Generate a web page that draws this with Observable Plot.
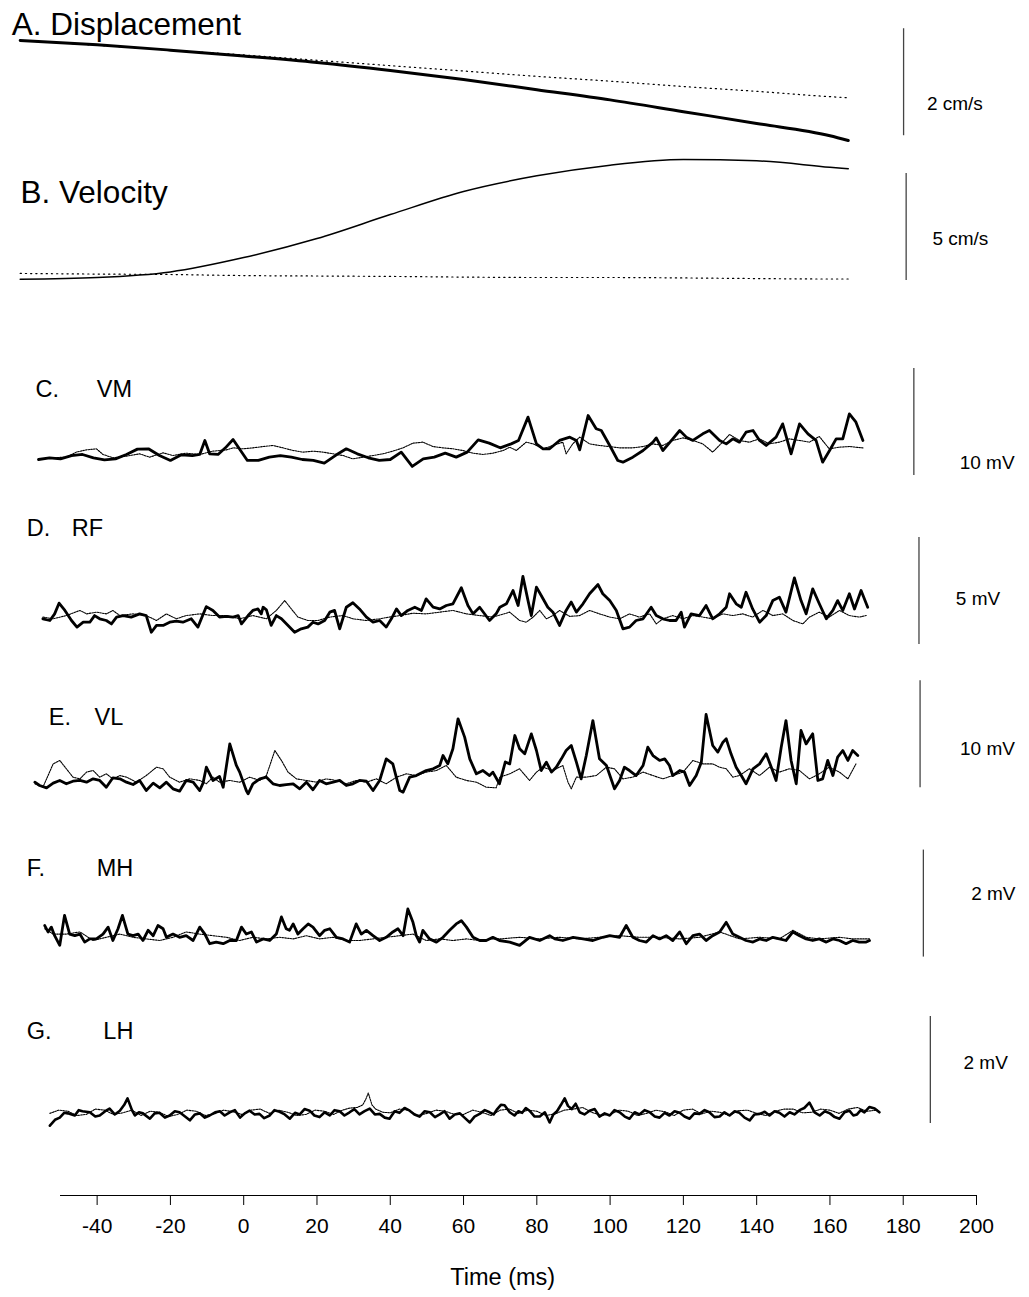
<!DOCTYPE html>
<html><head><meta charset="utf-8">
<script src="https://cdn.jsdelivr.net/npm/d3@7"></script>
<script src="https://cdn.jsdelivr.net/npm/@observablehq/plot@0.6"></script>
<style>
body{margin:0;background:#fff;}
#chart{position:relative;width:1029px;height:1297px;overflow:hidden;background:#fff;}
#chart svg{position:absolute;left:0;}
</style></head><body><div id="chart"></div>
<script>
// ---------------- DATA ----------------
const timeTicks = [-40,-20,0,20,40,60,80,100,120,140,160,180,200];
const panelLetters = ["A.","B.","C.","D.","E.","F.","G."];
const panelNames = ["Displacement","Velocity","VM","RF","VL","MH","LH"];
const scaleValues = [2,5,10,5,10,2,2];
const scaleUnits = ["cm/s","cm/s","mV","mV","mV","mV","mV"];
const axisTitle = "Time (ms)";

// A & B: smooth kinematic traces (ms, units)
const kinTime = [-61,-40,-20,0,20,40,60,80,100,120,140,160,165];
const dispPerturbed = [0,-0.08,-0.18,-0.29,-0.41,-0.56,-0.73,-0.92,-1.11,-1.33,-1.55,-1.78,-1.87];
const dispControl   = [0,-0.09,-0.18,-0.27,-0.37,-0.47,-0.57,-0.67,-0.76,-0.86,-0.95,-1.05,-1.07];
const velPerturbed  = [0.06,0.14,0.40,1.07,1.96,3.08,4.16,4.89,5.39,5.65,5.59,5.29,5.22];
const velControl    = [0.33,0.30,0.28,0.23,0.21,0.19,0.16,0.14,0.14,0.12,0.09,0.07,0.07];

// C. VM (ms, mV)
const vmPerturbed = [[-56,0],[-53,0.16],[-50,0.06],[-47,0.37],[-44,0.47],[-41,0.16],[-38,-0.03],[-35,0.06],[-32,0.47],[-29,0.97],[-26,1.0],[-23,0.37],[-20,-0.09],[-17,0.44],[-14,0.37],[-12,0.47],[-10.6,1.78],[-9.3,0.53],[-7,0.47],[-5,1.09],[-2.9,1.87],[1,-0.09],[4,-0.09],[7,0.22],[10,0.37],[13,0.22],[16,0],[19,-0.09],[22,-0.34],[25,0.37],[28,1.0],[31,0.53],[34,0.16],[37,-0.09],[40,0],[43,0.69],[46,-0.65],[49,0.06],[52,0.22],[55,0.59],[58,0.22],[61,0.69],[64,1.84],[67,1.53],[70,1.09],[73,1.46],[75,1.78],[77.6,3.96],[79.9,1.46],[81.7,1.0],[83.5,1.0],[86.2,1.78],[89,2.09],[90.8,1.78],[91.7,0.9],[94,4.11],[96.2,2.87],[97.6,2.71],[99.9,1.31],[102.1,-0.09],[103.5,-0.25],[106.2,0.22],[109,0.84],[111.7,1.62],[112.6,2.02],[114.4,0.84],[117.1,1.93],[119,2.71],[120.8,2.09],[122.6,1.78],[125.3,2.4],[127.1,2.71],[129.9,1.78],[131.7,1.46],[133.5,1.93],[135.3,1.62],[137.1,2.55],[139,2.71],[140.8,1.78],[142.6,1.31],[145.3,2.09],[147.1,3.33],[149.4,0.53],[151.7,3.33],[154,2.4],[156.2,1.78],[158,-0.25],[159.9,0.84],[161.7,1.93],[163.5,1.93],[165.3,4.27],[167.1,3.49],[169,1.78]];
const vmControl = [[-56,0],[-53,0.16],[-48.4,0.22],[-45.7,0.69],[-42.9,0.9],[-40.2,1.0],[-38.4,0.47],[-35.7,0.16],[-32,0.31],[-28.4,0.53],[-25.7,0.22],[-22,0.62],[-19.3,0.37],[-15.7,0.59],[-12,0.47],[-8.4,0.78],[-4.7,0.9],[-2.9,1.09],[-0.2,1.0],[2.5,1.09],[5.3,1.21],[8,1.31],[10.7,1.09],[13.5,0.84],[16.2,0.69],[18.9,0.78],[21.6,0.69],[24.4,0.53],[27.1,0.37],[29.8,0.06],[32.6,0.22],[35.3,0.37],[38,0.53],[40.7,0.78],[43.5,1.09],[46.2,1.53],[48.9,1.62],[51.7,1.21],[54.4,1.09],[57.1,1.0],[59.8,0.84],[62.6,0.59],[65.3,0.47],[68,0.59],[70.8,0.84],[72.6,1.15],[74.4,0.84],[77.1,1.62],[79,1.46],[81.7,1.0],[84.4,1.31],[87.1,1.62],[88,0.53],[89.8,1.46],[91.7,2.09],[94.4,1.46],[97.1,1.31],[99.8,1.21],[102.6,1.09],[106.2,1.09],[109,1.21],[111.7,1.46],[114.4,1.31],[117.1,1.78],[119.9,2.02],[122.6,1.78],[125.3,1.46],[128,0.69],[129.8,1.31],[132.6,2.34],[135.3,1.78],[138,1.62],[140.8,1.93],[143.5,1.46],[146.2,1.62],[148.9,1.93],[151.7,1.78],[154.4,1.62],[157.1,2.15],[159.8,1.0],[162.6,1.15],[165.3,1.21],[169,1.09]];

// D. RF (ms, mV)
const rfPerturbed = [[-54.8,-0.06],[-52.9,-0.14],[-51.6,0.17],[-50.4,0.67],[-48.8,0.33],[-47,-0.14],[-45.5,-0.45],[-43.8,-0.22],[-42,-0.22],[-40.7,0.09],[-39.3,-0.06],[-37.5,-0.14],[-36.1,-0.3],[-34.7,0.02],[-32.9,0.09],[-30.7,0.02],[-28.4,0.17],[-26.6,0.09],[-25.2,-0.69],[-23.8,-0.37],[-22,-0.37],[-20.2,-0.22],[-18.4,-0.17],[-16.6,-0.22],[-14.3,-0.06],[-12.5,-0.45],[-10.2,0.51],[-8.4,0.33],[-6.6,0.02],[-4.7,0.05],[-2.9,0.02],[-1.5,0.09],[-0.6,-0.3],[1.2,0.09],[2.5,0.33],[3.9,0.4],[4.8,0.17],[5.3,0.48],[6.2,0.36],[7.5,-0.37],[8.9,0.09],[10.3,-0.06],[12.1,-0.37],[13.9,-0.69],[15.7,-0.53],[17.5,-0.45],[18.9,-0.22],[20.3,-0.3],[22.1,-0.14],[23.5,0.25],[24.8,0.33],[26.2,-0.53],[28,0.48],[29.8,0.69],[31.6,0.4],[33.5,0.02],[35.3,-0.22],[37.1,-0.14],[38.9,-0.45],[40.3,-0.06],[41.7,0.4],[43,0.09],[44.8,0.33],[46.7,0.48],[48.5,0.33],[49.8,0.87],[51.7,0.48],[53.5,0.4],[55.3,0.56],[57.1,0.64],[59.4,1.39],[61.2,0.56],[62.6,0.17],[64.4,0.48],[67.1,-0.14],[68.9,0.17],[69.9,0.48],[71.7,0.64],[73.5,1.26],[74.9,0.56],[76.2,1.92],[77.6,0.79],[78.5,0.09],[79.9,1.42],[81.2,1.03],[83,0.48],[84.4,0.25],[86.2,-0.37],[88,0.33],[89.4,0.72],[90.8,0.25],[92.6,0.64],[94.4,1.11],[96.7,1.54],[98,1.11],[99.9,0.79],[101.7,0.33],[103.5,-0.53],[105.3,-0.45],[107.1,-0.14],[109,-0.06],[111.2,0.48],[112.6,0.09],[114.4,-0.06],[116.2,-0.14],[118,-0.14],[119.4,0.25],[120.3,-0.45],[122.1,0.17],[124.4,0.09],[126.2,0.56],[128,-0.06],[129.9,0.17],[131.7,0.48],[132.6,1.11],[134.4,0.64],[135.8,0.48],[137.1,1.18],[138.9,0.4],[140.8,-0.22],[142.6,0.09],[144.4,0.79],[146.2,0.95],[148,0.25],[150.3,1.85],[152.1,0.79],[153.5,0.17],[155.3,1.34],[157.1,0.64],[159,-0.06],[160.8,0.33],[162.1,0.79],[163.5,0.33],[165.3,1.11],[166.7,0.4],[168.5,1.26],[170.3,0.48]];
const rfControl = [[-54.8,0.02],[-52,-0.06],[-48.4,0.09],[-44.7,0.33],[-42.9,0.17],[-40.2,0.25],[-37.5,0.17],[-35.7,0.33],[-33.8,0.09],[-30.2,0.17],[-26.6,0.09],[-23.8,-0.14],[-21.1,0.17],[-18.4,-0.06],[-15.7,0.09],[-12,0.17],[-8.4,0.09],[-4.7,0.09],[-1.1,-0.06],[2.5,0.09],[6.2,-0.06],[8.9,0.33],[11.2,0.79],[13,0.4],[14.8,0.02],[17.5,-0.14],[20.3,-0.14],[23.5,0.02],[27.1,0.09],[29.8,-0.06],[33.5,-0.14],[37.1,-0.06],[39.8,0.02],[42.6,0.09],[46.2,0.2],[49.8,0.17],[53.5,0.25],[57.1,0.33],[60.8,0.17],[64.4,0.09],[68,0.02],[72.6,0.25],[75.3,-0.14],[77.1,-0.22],[79,0.02],[80.8,0.33],[82.6,-0.06],[84.4,0.09],[86.2,0.33],[89,0.05],[91.7,0.09],[94.4,0.33],[97.1,0.17],[99.9,0.02],[102.6,-0.06],[105.3,0.17],[108,0.02],[110.8,0.17],[112.6,-0.3],[114.4,-0.06],[117.1,0.09],[119.9,-0.06],[122.6,0.09],[125.3,0.02],[128,-0.06],[130.8,0.17],[133.5,0.09],[136.2,0.17],[138.9,0.02],[141.7,0.33],[144.4,0.09],[147.1,0.17],[149.9,-0.14],[152.6,-0.3],[154.4,0.02],[157.1,0.25],[159.8,0.02],[162.6,0.33],[165.3,0.09],[168,0.02],[169.9,0.09]];

// E. VL (ms, mV)
const vlPerturbed = [[-57,0.31],[-55.7,0],[-53.8,-0.22],[-52,0.22],[-50.2,0.47],[-48.4,0.16],[-46.6,0.4],[-44.7,0.47],[-42.9,0.31],[-41.1,0.62],[-39.3,0.47],[-37.5,-0.16],[-35.7,0.72],[-33.8,0.62],[-32,0.31],[-30.2,0.09],[-28.4,0.47],[-26.6,-0.47],[-24.7,0.22],[-22.9,-0.22],[-21.1,0.31],[-19.3,-0.31],[-17.5,-0.53],[-15.7,0.47],[-13.8,0.31],[-12,-0.47],[-11.1,0.22],[-10.2,1.71],[-8.4,0.47],[-6.6,0.84],[-5.6,-0.16],[-3.8,3.89],[-2,1.87],[-1.1,1.25],[0.7,-0.47],[1.2,-0.78],[2.5,0.16],[4.4,0.62],[6.2,0.78],[8,0.16],[9.8,0],[11.6,0.09],[13.5,0.16],[15.3,-0.31],[17.1,0.31],[18.9,-0.4],[20.7,0.47],[22.5,0.16],[24.4,0.31],[26.2,0.47],[28,0],[29.8,0.16],[31.6,0.47],[33.5,0.4],[35.3,-0.47],[37.1,0.47],[38.9,2.49],[40.7,2.02],[42.6,-0.47],[43.5,-0.62],[45.3,0.78],[47.1,0.93],[49.8,1.4],[51.7,1.56],[53.5,1.87],[54.4,2.8],[55.7,2.02],[57.1,3.43],[58.5,6.23],[60.3,4.52],[61.7,2.49],[63.5,1.09],[65.3,1.4],[67.1,0.93],[68,1.25],[69.8,0.16],[71.4,2.2],[72.6,2.02],[74,4.67],[75.3,3.43],[76.7,2.96],[78.5,4.83],[79.9,3.27],[81.2,1.4],[82.6,2.18],[84,1.25],[85.3,1.71],[86.7,2.49],[88,3.27],[89.4,3.74],[90.8,2.18],[92.1,0.62],[93.5,2.8],[95.3,6.07],[97.1,2.49],[99,1.87],[101.2,-0.31],[102.6,0.47],[103.9,1.71],[105.3,1.4],[107.1,0.93],[109,1.87],[110.3,3.58],[111.7,2.8],[113.5,2.34],[114.9,2.49],[116.2,1.87],[117.1,0.93],[119,1.4],[120.3,1.25],[121.7,0],[123.5,0.93],[124.9,2.18],[126.2,6.64],[128,3.74],[129.4,3.12],[130.8,4.05],[131.7,4.36],[133,2.96],[134.4,1.71],[135.8,0.93],[137.1,0.16],[139,1.56],[140.8,2.02],[142.6,2.96],[144,1.71],[145.3,0.47],[146.7,3.58],[148,6.07],[149.4,2.34],[150.8,0.16],[152.1,5.14],[153.5,3.89],[155.3,4.83],[156.7,0.47],[158,0.62],[159.4,2.34],[160.8,0.93],[162.1,2.65],[163.5,3.27],[164.9,2.34],[166.2,3.27],[167.6,2.8]];
const vlControl = [[-57,0.16],[-54.8,-0.16],[-52,2.02],[-50.2,2.34],[-48.4,1.56],[-46.6,0.78],[-44.7,0.62],[-42.9,1.25],[-41.1,1.4],[-39.3,0.78],[-37.5,1.09],[-35.7,0.62],[-33.8,0.93],[-32,0.78],[-29.3,0.31],[-26.6,0.93],[-23.8,1.71],[-22,1.56],[-20.2,0.78],[-17.5,0.31],[-14.7,0.62],[-12,0.47],[-10.2,0.16],[-8.4,0.78],[-6.6,0.31],[-3.8,0.47],[-1.1,0.31],[1.6,0.78],[4.4,0.47],[6.2,0.93],[8.5,3.27],[10.3,2.34],[12.1,1.25],[14.4,0.62],[17.1,0.47],[19.8,0.31],[22.5,0.62],[25.3,0.47],[28,0.16],[30.7,0.47],[33.5,0.31],[36.2,0.62],[38.9,0.16],[41.7,0.78],[44.4,1.09],[47.1,0.93],[49.8,1.25],[52.6,1.4],[55.3,1.87],[58,0.78],[60.8,0.47],[63.5,0.31],[66.2,-0.16],[68.9,-0.22],[69.9,0.78],[72.6,1.09],[75.3,1.56],[78,0.47],[79.9,1.25],[81.7,1.71],[84.4,1.4],[87.1,1.87],[88.5,0.31],[89.4,-0.31],[90.8,0.78],[93.5,0.78],[96.2,0.93],[99,1.71],[101.2,1.56],[103.5,0.62],[106.2,0.78],[109,1.25],[111.7,0.93],[114.4,0.62],[117.1,0.93],[119.9,1.25],[122.6,2.34],[125.3,2.02],[128,2.02],[129.9,1.71],[131.7,1.56],[133.5,0.78],[135.3,0.93],[138,1.56],[140.8,0.93],[143.5,1.71],[146.2,1.25],[148.9,1.56],[151.7,1.4],[154.4,0.62],[157.1,1.09],[159.8,1.71],[162.6,1.25],[164.9,0.62],[167.1,2.02]];

// F. MH (ms, mV)
const mhPerturbed = [[-54.3,0.28],[-53.4,0.16],[-52.5,0.25],[-51.6,0.09],[-50.2,-0.09],[-48.9,0.47],[-47.5,0.12],[-46.1,0.09],[-44.7,0.12],[-43.4,-0.03],[-42,0.03],[-40.2,0.03],[-38.4,0.12],[-37,0.25],[-35.7,0],[-34.3,0.22],[-33.1,0.47],[-31.6,0.12],[-30.2,0.09],[-28.8,0.12],[-27.5,0],[-26.1,0.19],[-24.7,0.09],[-23.4,0.28],[-22,0.22],[-21.1,0.06],[-19.3,0.12],[-17.5,0.06],[-15.7,0.09],[-13.8,0],[-12,0.25],[-10.6,0.12],[-9.3,-0.06],[-7.5,-0.03],[-5.6,-0.06],[-3.8,0],[-2,0],[-0.6,0.25],[0.7,0.12],[2.1,0.16],[3.5,-0.03],[5.3,0.03],[7.1,0],[8.9,0.12],[10.3,0.44],[11.6,0.22],[12.5,0.19],[13.5,0.31],[14.8,0.12],[16.2,0.22],[17.6,0.31],[18.9,0.25],[20.7,0.09],[22.1,0.19],[23.5,0.22],[25.3,0.06],[27.1,0.03],[28.9,-0.03],[30.7,0.31],[32.1,0.12],[33.5,0.19],[35.3,0.09],[37.1,0],[38.9,0.06],[40.7,0.16],[42.1,0.22],[43.5,0.09],[44.8,0.59],[46.2,0.34],[47.1,0.09],[48,-0.03],[48.9,0.19],[50.7,0.03],[52.6,-0.03],[54.4,0.06],[56.2,0.19],[58,0.31],[59.4,0.37],[60.8,0.25],[62.6,0.06],[64.4,0],[66.2,0],[68,0.06],[69.8,0],[72.6,-0.03],[75.3,-0.09],[78,0.06],[80.8,0],[83.5,0.09],[84.9,0.03],[87.1,0],[89.9,0.06],[92.6,0.03],[95.3,0],[98,0.06],[99.9,0.09],[102.6,0.06],[104.4,0.28],[106.2,0.06],[108,0],[109.9,-0.03],[111.7,0.09],[113.5,0.03],[115.3,0.09],[117.1,0],[119,0.16],[120.8,-0.06],[122.6,0.09],[124.4,0.12],[126.2,0],[128,0.09],[129.9,0.16],[131.7,0.34],[133.5,0.12],[135.3,0.06],[137.1,0],[139,-0.03],[140.8,0.03],[142.6,0],[144.4,0.06],[146.2,0.03],[148,0],[149.9,0.16],[151.7,0.09],[153.5,0.03],[155.3,0],[157.1,0.03],[159,-0.03],[160.8,0.03],[162.6,0],[164.4,-0.06],[166.2,0],[168,-0.03],[169.9,-0.03],[170.8,0]];
const mhControl = [[-54.3,0.22],[-52,0.12],[-48.4,0.12],[-44.7,0.16],[-41.1,0],[-37.5,0.06],[-33.8,0.12],[-30.2,0.06],[-26.6,0.03],[-22.9,0],[-19.3,0.06],[-15.7,0.16],[-12,0.12],[-8.4,0.09],[-4.7,0.06],[-1.1,0],[2.5,0.06],[6.2,0.03],[9.8,0.06],[13.5,0.03],[17.1,0.09],[20.7,0.03],[24.4,0.06],[28,0],[31.6,0],[35.3,0.03],[38.9,0.06],[42.6,0.09],[46.2,0.12],[49.8,0],[53.5,0.03],[57.1,0],[60.8,0.03],[64.4,0],[68,0.03],[69.9,0.03],[75.3,0.06],[80.8,0.03],[86.2,0.06],[91.7,0.03],[97.1,0.06],[102.6,0.09],[108,0.06],[113.5,0.06],[119,0.03],[124.4,0.06],[129.9,0.16],[135.3,0.03],[140.8,0.06],[146.2,0.03],[149.9,0.19],[153.5,0.06],[157.1,0.03],[162.6,0.06],[166.2,0.03],[170.8,0.03]];

// G. LH (ms, mV)
const lhPerturbed = [[-52.9,-0.19],[-51.5,-0.08],[-50.2,-0.04],[-49,0.05],[-48,0.04],[-46.1,0],[-45,0.1],[-44,0.08],[-42,0.06],[-40.5,-0.02],[-39.3,0],[-37.8,0.08],[-36.6,0.13],[-35.2,0.02],[-33.8,0.09],[-32.6,0.2],[-31.7,0.32],[-30.5,0.1],[-29.7,0],[-28.6,0.06],[-27.5,0.04],[-25.6,-0.06],[-24.3,0.04],[-23,0.05],[-21.5,-0.04],[-20.2,0],[-18.8,0.08],[-17.5,0.06],[-16,-0.02],[-14.7,-0.09],[-13.3,0.02],[-12,0.04],[-10.6,-0.04],[-9.3,0],[-7.8,0.06],[-6.5,0.08],[-5.2,0],[-3.8,0.06],[-2.4,0.1],[-1,-0.04],[0.3,0.04],[1.6,0.09],[3,0.02],[4.3,0.03],[5.6,-0.05],[7.1,0],[8.4,0.1],[9.8,0.07],[11.2,0.02],[12.6,-0.06],[14,0.05],[15.3,0.02],[16.6,0.12],[18,0.09],[19.3,0],[20.7,-0.03],[22.1,0.06],[23.5,0],[24.8,0.1],[26.2,0.08],[27.5,0],[28.9,0.06],[30.2,0.12],[31.6,0.02],[33,0.08],[34.4,0.13],[35.8,0.02],[37.1,0.03],[38.5,-0.04],[39.8,-0.06],[41.2,0.08],[42.5,0.05],[43.9,0.14],[45.3,0.09],[46.6,0.02],[48,-0.02],[49.4,0.08],[50.8,0.06],[52.2,-0.03],[53.5,0.02],[54.8,0.08],[56.2,-0.06],[57.6,0.02],[59,0.04],[60.4,-0.05],[61.7,-0.13],[63,-0.02],[64.4,0.03],[65.8,0.1],[67.1,0.06],[68.2,0.02],[69.2,0.12],[70.2,0.2],[71.2,0.19],[72.6,0.06],[73.9,0],[75,0.08],[76,0.05],[77,0.14],[78,0.09],[79.4,-0.02],[80.8,-0.02],[82.2,0.06],[83.5,-0.13],[84.5,0.02],[85.5,0.08],[86.6,0.2],[87.6,0.32],[88.5,0.18],[89.5,0.12],[90.6,0.22],[91.7,0.06],[93,0.02],[94.4,0.09],[95.8,0.12],[97.1,-0.02],[98.5,0.04],[99.9,0],[101.2,0.1],[102.6,0.06],[104,-0.02],[105.3,-0.06],[106.7,0.06],[108,0.02],[109.4,0.1],[110.8,0.06],[112.2,-0.02],[113.5,-0.04],[114.9,0.05],[116.2,0],[117.6,0.08],[119,0.05],[120.3,-0.02],[121.7,-0.06],[123,0.04],[124.4,0.03],[125.8,0.1],[127.1,0.06],[128.5,-0.03],[129.9,-0.02],[131.2,0.06],[132.6,0],[134,0.08],[135.3,0.05],[136.7,-0.04],[138.1,-0.09],[139.4,0.02],[140.8,0.03],[142.2,0.07],[143.5,0],[144.9,0.08],[146.2,0.05],[147.6,-0.02],[149,0.06],[150.3,0.02],[151.7,0.1],[153,0.14],[154.4,0.24],[155.8,0.06],[157.2,0],[158.6,0.08],[160,0.04],[161.3,-0.03],[162.6,-0.06],[164,0.06],[165.3,0.09],[166.4,0.0],[167.4,0.02],[168.4,0.1],[169.4,0.06],[170.8,0.16],[172.2,0.13],[173.5,0.06]];
const lhControl = [[-52.9,0.04],[-50.5,0.1],[-48,0.08],[-45.5,0.0],[-43,0.02],[-40.5,0.12],[-38,0.1],[-35.5,0.02],[-33,0.05],[-30.5,0.1],[-28,0],[-25.5,0.08],[-23,0.06],[-20.5,-0.02],[-18,0.02],[-15.5,0.1],[-13,0.08],[-10.5,0.0],[-8,0.03],[-5.5,0.1],[-3,0.07],[-0.5,0.02],[2,0.1],[4.5,0.12],[7,0.04],[9.5,0.1],[12,0.06],[14.5,0.0],[17,0.02],[19.5,0.1],[22,0.08],[24.5,0.02],[27,0.1],[29,0.14],[31,0.15],[32.5,0.2],[33.3,0.3],[34,0.42],[35,0.2],[36,0.12],[38,0.06],[40,0.05],[42.5,0.12],[45,0.1],[47.5,0.0],[50,0.04],[52.5,0.1],[55,0.08],[57.5,0.02],[60,0.02],[62.5,0.1],[65,0.06],[67.5,0.0],[70,0.1],[72.5,0.12],[75,0.04],[77.5,0.1],[80,0.08],[82.5,0.0],[85,0.03],[87.5,0.1],[90,0.12],[92.5,0.15],[95,0.06],[97.5,0.0],[100,0.02],[102.5,0.1],[105,0.08],[107.5,0.0],[110,0.04],[112.5,0.1],[115,0.07],[117.5,0.0],[120,0.1],[122.5,0.12],[125,0.03],[127.5,0.08],[130,0.06],[132.5,0.0],[135,0.09],[137.5,0.1],[140,0.04],[142.5,0.0],[145,0.08],[147.5,0.12],[150,0.12],[152.5,0.05],[155,0.06],[157.5,0.12],[160,0.1],[162.5,0.04],[165,0.12],[167.5,0.15],[170,0.08],[173,0.1]];

// ---------------- LAYOUT ----------------
const FONT = '"Liberation Sans", Arial, Helvetica, sans-serif';
const W = 1029, ML = 60, MR = 53, XDOM = [-50, 200];
// band top/bottom (px), baseline y0 (px), px per unit k
const layout = [
  {top:0,    bottom:150,  y0:40,   k:53.5, barX:180.1, barLo:-1.78, labX:194.1, labY:-1.18, letX:-63.3, nameX:null,  titleY:0.30, titleSize:31.5},
  {top:150,  bottom:300,  y0:280,  k:21.4, barX:180.8, barLo:0,     labX:195.6, labY:1.96,  letX:-60.9, nameX:null,  titleY:4.11, titleSize:31.5},
  {top:300,  bottom:500,  y0:459,  k:10.7, barX:182.9, barLo:-1.5,  labX:202.9, labY:-0.28, letX:-56.8, nameX:-40.1, titleY:6.5,  titleSize:23.5},
  {top:500,  bottom:660,  y0:617,  k:21.4, barX:184.3, barLo:-1.26, labX:200.4, labY:0.89,  letX:-59.2, nameX:-46.9, titleY:4.16, titleSize:23.5},
  {top:660,  bottom:820,  y0:785,  k:10.7, barX:184.6, barLo:-0.2,  labX:203.0, labY:3.46,  letX:-53.2, nameX:-40.7, titleY:6.36, titleSize:23.5},
  {top:820,  bottom:990,  y0:940,  k:53.5, barX:185.5, barLo:-0.31, labX:204.6, labY:0.88,  letX:-59.2, nameX:-40.1, titleY:1.35, titleSize:23.5},
  {top:990,  bottom:1160, y0:1115, k:53.5, barX:187.4, barLo:-0.15, labX:202.5, labY:0.99,  letX:-59.2, nameX:-38.3, titleY:1.57, titleSize:23.5}
];

const chart = document.getElementById("chart");
const toPts = arr => arr.map(([t, v]) => ({t, v}));
const zipK = vals => kinTime.map((t, i) => ({t, v: vals[i]}));

const series = [
  {pert: zipK(dispPerturbed), ctrl: zipK(dispControl), pw: 3, curve: "monotone-x", kin: true},
  {pert: zipK(velPerturbed),  ctrl: zipK(velControl),  pw: 1.5, curve: "monotone-x", kin: true},
  {pert: toPts(vmPerturbed), ctrl: toPts(vmControl), pw: 2.8, curve: "linear"},
  {pert: toPts(rfPerturbed), ctrl: toPts(rfControl), pw: 2.8, curve: "linear"},
  {pert: toPts(vlPerturbed), ctrl: toPts(vlControl), pw: 2.8, curve: "linear"},
  {pert: toPts(mhPerturbed), ctrl: toPts(mhControl), pw: 2.8, curve: "linear"},
  {pert: toPts(lhPerturbed), ctrl: toPts(lhControl), pw: 2.6, curve: "linear"}
];

layout.forEach((L, i) => {
  const s = series[i];
  const h = L.bottom - L.top;
  const marks = [
    s.kin
      ? Plot.line(s.ctrl, {x: "t", y: "v", stroke: "black", strokeWidth: 1.2, strokeDasharray: "1.2,4", curve: s.curve})
      : Plot.line(s.ctrl, {x: "t", y: "v", stroke: "black", strokeWidth: 1.1, strokeDasharray: "1.6,1.1", curve: s.curve}),
    Plot.line(s.pert, {x: "t", y: "v", stroke: "black", strokeWidth: s.pw, curve: s.curve, strokeLinejoin: "round"}),
    Plot.ruleX([{x: L.barX, y1: L.barLo, y2: L.barLo + scaleValues[i]}], {x: "x", y1: "y1", y2: "y2", stroke: "#444", strokeWidth: 1.3}),
    Plot.text([{x: L.labX, y: L.labY, s: scaleValues[i] + " " + scaleUnits[i]}], {x: "x", y: "y", text: "s", fontSize: 19, fill: "black", textAnchor: "middle"})
  ];
  if (L.nameX === null) {
    marks.push(Plot.text([{x: L.letX, y: L.titleY, s: panelLetters[i] + " " + panelNames[i]}], {x: "x", y: "y", text: "s", fontSize: L.titleSize, fill: "black", textAnchor: "start"}));
  } else {
    marks.push(Plot.text([{x: L.letX, y: L.titleY, s: panelLetters[i]}], {x: "x", y: "y", text: "s", fontSize: L.titleSize, fill: "black", textAnchor: "start"}));
    marks.push(Plot.text([{x: L.nameX, y: L.titleY, s: panelNames[i]}], {x: "x", y: "y", text: "s", fontSize: L.titleSize, fill: "black", textAnchor: "start"}));
  }
  const svg = Plot.plot({
    width: W, height: h,
    marginLeft: ML, marginRight: MR, marginTop: 0, marginBottom: 0,
    x: {domain: XDOM, axis: null},
    y: {domain: [(L.y0 - L.bottom) / L.k, (L.y0 - L.top) / L.k], axis: null},
    style: {background: "transparent", overflow: "visible", fontFamily: FONT},
    marks
  });
  svg.style.top = L.top + "px";
  chart.appendChild(svg);
});

// time axis
const axisSvg = Plot.plot({
  width: W, height: 137,
  marginLeft: ML, marginRight: MR, marginTop: 0, marginBottom: 102,
  x: {domain: XDOM, ticks: timeTicks, tickSize: 10, tickPadding: 13, tickFormat: d => String(d), label: null, line: true},
  style: {background: "transparent", overflow: "visible", fontFamily: FONT, fontSize: "21px"},
  marks: [
    Plot.text([axisTitle], {x: () => 70.7, frameAnchor: "top", lineAnchor: "middle", dy: 117, fontSize: 23.5, fill: "black", text: d => d})
  ]
});
axisSvg.style.top = "1160px";
chart.appendChild(axisSvg);
</script>
</body></html>
